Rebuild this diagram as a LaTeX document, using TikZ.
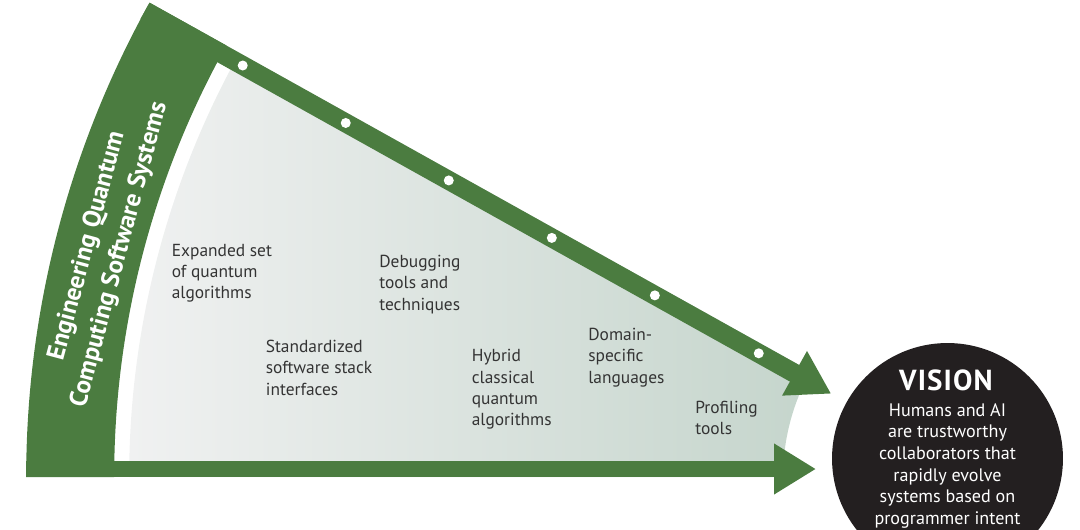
\documentclass[tikz,border=0pt]{standalone}
\usepackage{fontspec}
\setmainfont{PT Sans}
\usetikzlibrary{arrows.meta,calc,positioning}
\definecolor{qgreen}{RGB}{75,124,64}
\definecolor{visionblack}{RGB}{35,31,32}
\definecolor{labelgray}{RGB}{52,52,52}
\definecolor{fadelight}{RGB}{240,241,241}
\definecolor{fadegreen}{RGB}{197,213,204}

\tikzset{
  shaft/.style={draw=qgreen, -{Triangle[length=0.84cm, width=0.96cm]}},
  railhole/.style={circle, fill=white, inner sep=0pt, minimum size=0.2cm},
  milestone/.style={anchor=north west, inner sep=0pt, align=left, text=labelgray,
    font=\fontsize{9.9}{12.2}\selectfont},
  bandtitle/.style={inner sep=0pt, align=center, text=white,
    font=\bfseries\fontsize{14.4}{19}\selectfont},
  visionball/.style={circle, fill=visionblack, inner sep=0pt, minimum size=4.62cm},
  visionhead/.style={inner sep=0pt, text=white,
    font=\bfseries\fontsize{16.5}{18}\selectfont\addfontfeature{LetterSpace=4}},
  visionbody/.style={inner sep=0pt, align=center, text=white,
    font=\fontsize{10.3}{12.3}\selectfont}
}

\begin{document}
\begin{tikzpicture}[x=0.02cm, y=0.02cm]
  \useasboundingbox (0,0) rectangle (1080,529);

  % funnel centre
  \coordinate (hub) at (1000,52);
  \coordinate (hubtop) at ($(hub)+(240.85:0.19cm)$);

  % shaded field
  \shade[left color=fadelight, right color=fadegreen]
    ($(hub)+(150.85:17.42cm)$) arc[start angle=150.85, end angle=180, radius=17.42cm]
    -- ($(hub)+(180:4.34cm)$) arc[start angle=180, end angle=150.85, radius=4.34cm] -- cycle;

  % outer band
  \fill[qgreen]
    ($(hub)+(150.85:19.48cm)$) arc[start angle=150.85, end angle=180, radius=19.48cm]
    -- ($(hub)+(180:17.72cm)$) arc[start angle=180, end angle=150.85, radius=17.72cm] -- cycle;

  % arrows
  \coordinate (railstart) at ($(hubtop)+(150.85:19.48cm)$);
  \coordinate (railtip) at ($(hubtop)+(150.85:3.76cm)$);
  \coordinate (basestart) at (26,60);
  \coordinate (basetip) at (816,60);
  \draw[shaft, line width=0.38cm] (railstart) -- (railtip);
  \draw[shaft, line width=0.32cm] (basestart) -- (basetip);
  \foreach \r in {17.24,14.88,12.52,10.16,7.8,5.42}
    \node[railhole] at ($(hubtop)+(150.85:\r cm)$) {};

  \node[bandtitle, rotate=75] (title) at ($(hub)+(165.8:18.5cm)$)
    {Engineering Quantum\\Computing Software Systems};

  % milestones
  \node[milestone] (algos) at (171.5,285.5) {Expanded set\\of quantum\\algorithms};
  \node[milestone] (stack) at (265.5,189.5) {Standardized\\software stack\\interfaces};
  \node[milestone] (debug) at (379,274.5) {Debugging\\tools and\\techniques};
  \node[milestone] (hybrid) at (471.5,180) {Hybrid\\classical\\quantum\\algorithms};
  \node[milestone] (dsl) at (588,201.5) {Domain-\\specific\\languages};
  \node[milestone] (profile) at (695,128.5) {Profiling\\tools};

  % vision
  \node[visionball] (vision) at (947.5,70.5) {};
  \node[visionhead, anchor=base] (visionhead) at (946,139) {VISION};
  \node[visionbody, anchor=north] (visionbody) at (947.5,126)
    {Humans and AI\\are trustworthy\\collaborators that\\rapidly evolve\\systems based on\\programmer intent};
\end{tikzpicture}
\end{document}
